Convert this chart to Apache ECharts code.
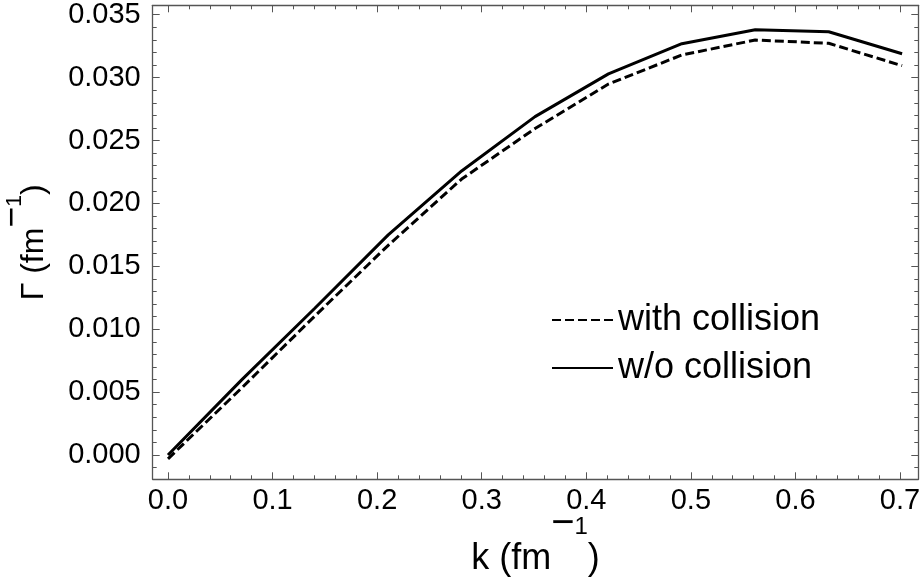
<!DOCTYPE html>
<html>
<head>
<meta charset="utf-8">
<script src="https://cdn.jsdelivr.net/npm/echarts@6/dist/echarts.min.js"></script>
<style>
  html, body { margin: 0; padding: 0; background: #fff; }
  #chart { width: 924px; height: 582px; }
</style>
</head>
<body>
<div id="chart"></div>
<script>
// wave number k (fm^-1)
const kValues = [0, 0.0702, 0.1404, 0.2106, 0.2808, 0.351, 0.4212, 0.4914, 0.5616, 0.6318, 0.702];
// damping rate Γ (fm^-1)
const gammaWithCollision = [-0.0003, 0.00531, 0.01105, 0.01667, 0.02194, 0.02595, 0.02949, 0.0318, 0.03299, 0.03273, 0.03095];
const gammaWithoutCollision = [0, 0.00595, 0.01167, 0.0175, 0.02258, 0.0269, 0.0303, 0.0327, 0.0338, 0.03365, 0.0319];

const xMajor = [0, 0.1, 0.2, 0.3, 0.4, 0.5, 0.6, 0.7];
const xMinor = [0.02, 0.04, 0.06, 0.08, 0.12, 0.14, 0.16, 0.18, 0.22, 0.24, 0.26, 0.28,
  0.32, 0.34, 0.36, 0.38, 0.42, 0.44, 0.46, 0.48, 0.52, 0.54, 0.56, 0.58, 0.62, 0.64, 0.66, 0.68];
const yMajor = [0, 0.005, 0.01, 0.015, 0.02, 0.025, 0.03, 0.035];
const yMinor = [-0.001, 0.001, 0.002, 0.003, 0.004, 0.006, 0.007, 0.008, 0.009, 0.011, 0.012, 0.013, 0.014,
  0.016, 0.017, 0.018, 0.019, 0.021, 0.022, 0.023, 0.024, 0.026, 0.027, 0.028, 0.029,
  0.031, 0.032, 0.033, 0.034];

const X_MIN = -0.01463, X_MAX = 0.7175;
const Y_MIN = -0.00193, Y_MAX = 0.03575;

const FONT = 'Liberation Sans, Arial, sans-serif';
const FRAME = '#555';

function pairs(ys) { return kValues.map((k, i) => [k, ys[i]]); }

// "unit (fm^-1)" title with a raised, wide minus sign; lift sets how high the exponent sits
function unitTitle(size, lift) {
  const s = size / 36;
  return {
    rich: {
      t: { fontFamily: FONT, fontSize: 36 * s, lineHeight: 36 * s, color: '#000', verticalAlign: 'top', padding: [36.8 * s - lift, 0, 0, 0] },
      m: { fontFamily: FONT, fontSize: 40 * s, lineHeight: 40 * s, color: '#000', verticalAlign: 'top', padding: [0, 0, 0, 0] },
      o: { fontFamily: FONT, fontSize: 24 * s, lineHeight: 24 * s, color: '#000', verticalAlign: 'top', padding: [11 * s, 0, 0, 0] }
    }
  };
}

function xAxisDef(position, ticks, len, withLabels, showLine) {
  return {
    type: 'value', position, min: X_MIN, max: X_MAX,
    axisLine: { show: showLine, onZero: false, lineStyle: { color: FRAME, width: 1.3 } },
    axisTick: { show: true, inside: true, length: len, customValues: ticks, lineStyle: { color: FRAME, width: 1 } },
    axisLabel: withLabels ? {
      show: true, customValues: xMajor, color: '#000', fontFamily: FONT, fontSize: 29, margin: 7,
      formatter: v => v.toFixed(1)
    } : { show: false },
    splitLine: { show: false }
  };
}
function yAxisDef(position, ticks, len, withLabels, showLine) {
  return {
    type: 'value', position, min: Y_MIN, max: Y_MAX,
    axisLine: { show: showLine, onZero: false, lineStyle: { color: FRAME, width: 1.3 } },
    axisTick: { show: true, inside: true, length: len, customValues: ticks, lineStyle: { color: FRAME, width: 1 } },
    axisLabel: withLabels ? {
      show: true, customValues: yMajor, color: '#000', fontFamily: FONT, fontSize: 29, margin: 12,
      formatter: v => v.toFixed(3)
    } : { show: false },
    splitLine: { show: false }
  };
}

const xAxes = [
  Object.assign(xAxisDef('bottom', xMajor, 7, true, true), {
    name: '{t|k (fm}{m|−}{o|1}{t|)}', nameLocation: 'middle', nameGap: 25, nameMoveOverlap: false,
    nameTextStyle: unitTitle(36, 0)
  }),
  xAxisDef('bottom', xMinor, 4, false, false),
  xAxisDef('top', xMajor, 7, false, true),
  xAxisDef('top', xMinor, 4, false, false)
];
const yAxes = [
  Object.assign(yAxisDef('left', yMajor, 7, true, true), {
    name: '{t|Γ (fm}{m|−}{o|1}{t|)}', nameLocation: 'middle', nameGap: 122, nameRotate: 90, nameMoveOverlap: false,
    nameTextStyle: unitTitle(32, 10)
  }),
  yAxisDef('left', yMinor, 4, false, false),
  yAxisDef('right', yMajor, 7, false, true),
  yAxisDef('right', yMinor, 4, false, false)
];

const chart = echarts.init(document.getElementById('chart'), null, { renderer: 'canvas' });
chart.setOption({
  animation: false,
  backgroundColor: '#fff',
  grid: { left: 152.7, top: 5.3, width: 765.6, height: 474, containLabel: false, outerBoundsMode: 'none' },
  xAxis: xAxes,
  yAxis: yAxes,
  legend: {
    orient: 'vertical', left: 546, top: 295,
    itemWidth: 61, itemHeight: 14, itemGap: 8,
    itemStyle: { opacity: 0 },
    textStyle: { fontFamily: FONT, fontSize: 36, lineHeight: 40, color: '#000' },
    data: ['with collision', 'w/o collision']
  },
  series: [
    {
      name: 'with collision', type: 'line', data: pairs(gammaWithCollision),
      xAxisIndex: 0, yAxisIndex: 0, showSymbol: false, symbol: 'none',
      lineStyle: { color: '#000', width: 3, type: [9, 4] }, itemStyle: { color: '#000' }
    },
    {
      name: 'w/o collision', type: 'line', data: pairs(gammaWithoutCollision),
      xAxisIndex: 0, yAxisIndex: 0, showSymbol: false, symbol: 'none',
      lineStyle: { color: '#000', width: 3, type: 'solid' }, itemStyle: { color: '#000' }
    }
  ]
});
</script>
</body>
</html>
